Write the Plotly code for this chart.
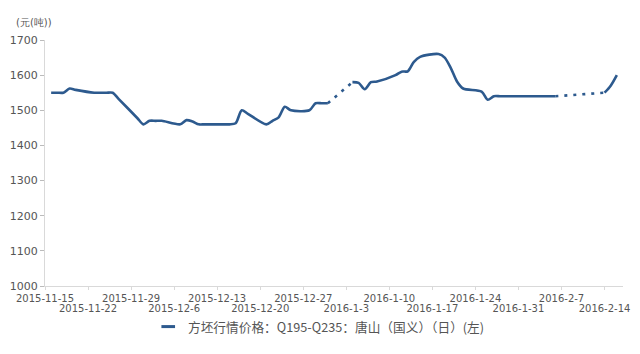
import plotly.graph_objects as go

# Data (yuan/ton)
dates = [
    "2015-11-16", "2015-11-17", "2015-11-18", "2015-11-19", "2015-11-20",
    "2015-11-23", "2015-11-24", "2015-11-25", "2015-11-26", "2015-11-27",
    "2015-11-30", "2015-12-01", "2015-12-02", "2015-12-03", "2015-12-04",
    "2015-12-07", "2015-12-08", "2015-12-09", "2015-12-10", "2015-12-11",
    "2015-12-14", "2015-12-15", "2015-12-16", "2015-12-17", "2015-12-18",
    "2015-12-21", "2015-12-22", "2015-12-23", "2015-12-24", "2015-12-25",
    "2015-12-28", "2015-12-29", "2015-12-30", "2015-12-31",
    "2016-01-02",
    "2016-01-04", "2016-01-05", "2016-01-06", "2016-01-07", "2016-01-08",
    "2016-01-11", "2016-01-12", "2016-01-13", "2016-01-14", "2016-01-15",
    "2016-01-18", "2016-01-19", "2016-01-20", "2016-01-21", "2016-01-22",
    "2016-01-25", "2016-01-26", "2016-01-27", "2016-01-28", "2016-01-29",
    "2016-02-01", "2016-02-02", "2016-02-03", "2016-02-04", "2016-02-05",
    "2016-02-06",
    "2016-02-10",
    "2016-02-14", "2016-02-15", "2016-02-16",
]
prices = [
    1550, 1550, 1550, 1562, 1558,
    1550, 1550, 1550, 1550, 1532,
    1478, 1460, 1470, 1470, 1470,
    1460, 1472, 1468, 1460, 1460,
    1460, 1460, 1463, 1500, 1490,
    1460, 1470, 1480, 1510, 1500,
    1500, 1520, 1520, 1520,
    None,
    1580, 1578, 1560, 1580, 1582,
    1600, 1610, 1611, 1638, 1652,
    1660, 1650, 1620, 1582, 1562,
    1553, 1530, 1540, 1540, 1540,
    1540, 1540, 1540, 1540, 1540,
    1540,
    None,
    1550, 1570, 1600,
]

# Holiday gaps drawn as dotted connectors
gap_dates = ["2015-12-31", "2016-01-04", None, "2016-02-06", "2016-02-14"]
gap_prices = [1520, 1580, None, 1540, 1550]

tick_dates = [
    "2015-11-15", "2015-11-22", "2015-11-29", "2015-12-06", "2015-12-13",
    "2015-12-20", "2015-12-27", "2016-01-03", "2016-01-10", "2016-01-17",
    "2016-01-24", "2016-01-31", "2016-02-07", "2016-02-14",
]
tick_labels = [
    "2015-11-15", "2015-11-22", "2015-11-29", "2015-12-6", "2015-12-13",
    "2015-12-20", "2015-12-27", "2016-1-3", "2016-1-10", "2016-1-17",
    "2016-1-24", "2016-1-31", "2016-2-7", "2016-2-14",
]
y_ticks = [1000, 1100, 1200, 1300, 1400, 1500, 1600, 1700]

series_name = "方坯行情价格：Q195-Q235：唐山（国义）（日）(左)"
line_color = "#2d5a8e"
grey = "#555555"
font_family = "DejaVu Sans, Verdana, sans-serif"
x_range = ["2015-11-15", "2016-02-17"]

fig = go.Figure()
fig.add_trace(go.Scatter(
    x=dates, y=prices, mode="lines", name=series_name, showlegend=False,
    line=dict(color=line_color, width=2.6, shape="spline", smoothing=0.8),
    connectgaps=False,
))
fig.add_trace(go.Scatter(
    x=gap_dates, y=gap_prices, mode="lines", showlegend=False,
    line=dict(color=line_color, width=2.6, dash="3px,6px"),
    connectgaps=False,
))
# invisible trace so the second-row tick axis is drawn
fig.add_trace(go.Scatter(
    x=x_range, y=[None, None], xaxis="x2", mode="lines",
    showlegend=False, hoverinfo="skip",
))

# Legend drawn by hand (short line key + text) to match the reference
leg_y = -0.165
fig.add_shape(type="line", xref="paper", yref="paper",
              x0=0.2014, x1=0.2250, y0=leg_y, y1=leg_y,
              line=dict(color=line_color, width=3))

axis_common = dict(
    type="date", range=x_range, showgrid=False, zeroline=False,
    ticks="outside", ticklen=3, tickcolor="#d9d9d9",
    tickfont=dict(size=10, color=grey), tickangle=0,
)

fig.update_layout(
    width=640, height=354,
    margin=dict(l=39, r=10, t=40, b=68),
    paper_bgcolor="white", plot_bgcolor="white",
    font=dict(family=font_family, size=10, color=grey),
    showlegend=False,
    xaxis=dict(
        **axis_common,
        tickvals=tick_dates[0::2], ticktext=tick_labels[0::2],
        showline=True, linecolor="#d9d9d9", linewidth=1,
    ),
    xaxis2=dict(
        **axis_common,
        overlaying="x", anchor="y", side="bottom",
        tickvals=tick_dates[1::2], ticktext=tick_labels[1::2],
        showline=False, ticklabelstandoff=10,
    ),
    yaxis=dict(
        range=[1000, 1700],
        tickvals=y_ticks,
        showgrid=False, zeroline=False,
        showline=True, linecolor="#d9d9d9", linewidth=1,
        ticks="outside", ticklen=4, tickcolor="#bbbbbb",
        tickfont=dict(size=11, color=grey),
    ),
    annotations=[
        dict(
            text="(元(吨))", xref="paper", yref="paper", x=-0.053, y=1.073,
            xanchor="left", yanchor="middle", showarrow=False,
            font=dict(size=10, color=grey),
        ),
        dict(
            text=series_name, xref="paper", yref="paper", x=0.2437, y=leg_y,
            xanchor="left", yanchor="middle", showarrow=False,
            font=dict(family="Noto Sans CJK SC, sans-serif", size=12.7, color=grey),
        ),
    ],
)

fig.write_html("out.html")
